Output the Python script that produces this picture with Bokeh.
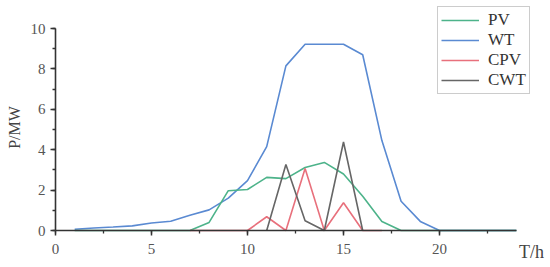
import math
from bokeh.plotting import figure
from bokeh.models import Range1d, Legend, LegendItem, Label, LinearAxis, SingleIntervalTicker
from bokeh.embed import file_html
from bokeh.resources import INLINE

# ---- data ----
t_wt = [1, 2, 3, 4, 5, 6, 7, 8, 9, 10, 11, 12, 13, 14, 15, 16, 17, 18, 19, 20, 21, 22, 23, 24]
wt = [0.06, 0.12, 0.17, 0.23, 0.37, 0.46, 0.76, 1.02, 1.6, 2.47, 4.15, 8.15, 9.22, 9.22, 9.22, 8.7, 4.45, 1.45, 0.45, 0.0, 0.0, 0.0, 0.0, 0.0]
t_pv = [1, 2, 3, 4, 5, 6, 7, 8, 9, 10, 11, 12, 13, 14, 15, 16, 17, 18, 19, 20, 21, 22, 23, 24]
pv = [0, 0, 0, 0, 0, 0, 0, 0.4, 1.97, 2.03, 2.63, 2.57, 3.12, 3.37, 2.8, 1.7, 0.45, 0, 0, 0, 0, 0, 0, 0]
t_cpv = [7, 8, 9, 10, 11, 12, 13, 14, 15, 16, 17]
cpv = [0, 0, 0, 0, 0.68, 0, 3.07, 0, 1.37, 0, 0]
t_cwt = [11, 12, 13, 14, 15, 16]
cwt = [0, 3.27, 0.48, 0, 4.38, 0]

x_major_step = 5
y_major_step = 2
x_limits = (0, 24)
y_limits = (0, 10)

FONT = "'Liberation Serif', 'Times New Roman', serif"
C_PV = "#4db38a"
C_WT = "#5a8ad2"
C_CPV = "#e8707c"
C_CWT = "#666666"

W, H = 550, 267
X0, Y0 = 55.0, 230.0      # pixel position of the origin
SX, SY = 19.2, 20.2       # pixels per unit

p = figure(frame_width=W, frame_height=H, min_border=0,
           x_range=Range1d(-X0 / SX, (W - X0) / SX),
           y_range=Range1d(-(H - Y0) / SY, Y0 / SY),
           x_axis_location=None, y_axis_location=None,
           output_backend="svg", toolbar_location=None)
p.outline_line_color = None
p.background_fill_color = "white"
p.border_fill_color = "white"
p.grid.visible = False
for g in p.renderers[:]:
    pass

xax = LinearAxis(fixed_location=0, bounds=x_limits,
                 ticker=SingleIntervalTicker(interval=x_major_step, num_minor_ticks=2))
yax = LinearAxis(fixed_location=0, bounds=y_limits,
                 ticker=SingleIntervalTicker(interval=y_major_step, num_minor_ticks=2))
for ax in (xax, yax):
    ax.axis_line_color = "#333333"
    ax.axis_line_width = 1.6
    ax.major_tick_line_color = "#333333"
    ax.major_tick_line_width = 1.5
    ax.major_tick_in = 0
    ax.major_tick_out = 5
    ax.minor_tick_line_color = "#333333"
    ax.minor_tick_line_width = 1.3
    ax.minor_tick_in = 0
    ax.minor_tick_out = 3
    ax.major_label_text_font = FONT
    ax.major_label_text_font_size = "15px"
    ax.major_label_text_color = "#555555"
xax.major_label_standoff = 8
yax.major_label_standoff = 5
p.add_layout(xax, "below")
p.add_layout(yax, "left")

r_wt = p.line(t_wt, wt, line_color=C_WT, line_width=1.6)
r_pv = p.line(t_pv, pv, line_color=C_PV, line_width=1.6)
r_cpv = p.line(t_cpv, cpv, line_color=C_CPV, line_width=1.6)
r_cwt = p.line(t_cwt, cwt, line_color=C_CWT, line_width=1.6)

legend = Legend(items=[LegendItem(label="PV", renderers=[r_pv]),
                       LegendItem(label="WT", renderers=[r_wt]),
                       LegendItem(label="CPV", renderers=[r_cpv]),
                       LegendItem(label="CWT", renderers=[r_cwt])],
                location=(437, 173), orientation="vertical",
                padding=3, spacing=0, margin=0,
                glyph_width=38, glyph_height=20, label_height=20,
                label_standoff=9,
                label_text_font=FONT, label_text_font_size="17px",
                label_text_color="#333333",
                border_line_color="#999999", border_line_width=1.5,
                background_fill_alpha=1.0)
p.add_layout(legend, "center")

p.add_layout(Label(x=-2.11, y=5.1, text="P/MW", angle=math.pi / 2,
                   text_align="center", text_baseline="middle",
                   text_font=FONT, text_font_size="16px", text_color="#444444"))
p.add_layout(Label(x=24.79, y=-1.04, text="T/h",
                   text_align="center", text_baseline="middle",
                   text_font=FONT, text_font_size="18px", text_color="#444444"))

open("out.html", "w").write(file_html(p, INLINE))
